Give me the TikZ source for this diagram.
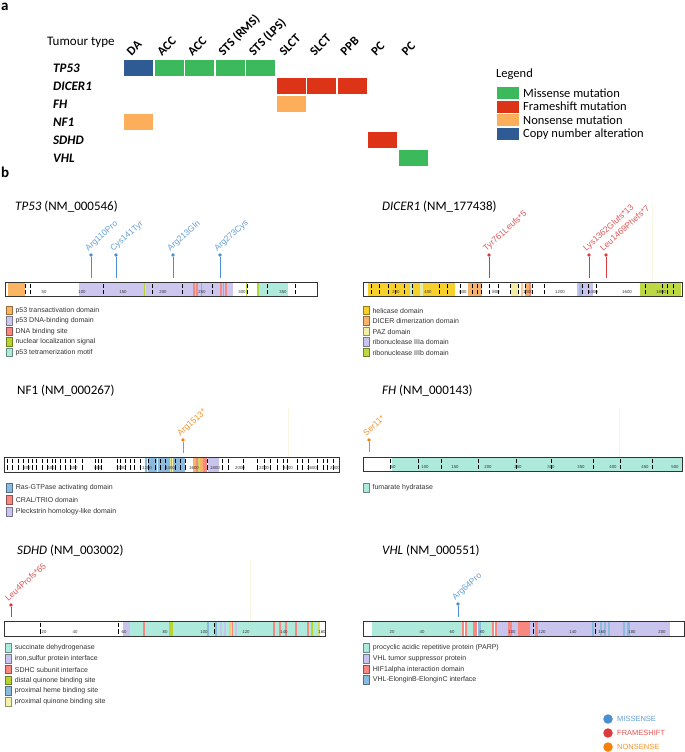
\documentclass[tikz,border=0pt]{standalone}
\usepackage{fontspec}
\setmainfont{Carlito}
\newfontfamily\arf{Liberation Sans}
\definecolor{mgreen}{HTML}{3CBA5B}
\definecolor{mred}{HTML}{DD3418}
\definecolor{morange}{HTML}{FDAE5A}
\definecolor{mblue}{HTML}{2E5B93}
\definecolor{dorange}{HTML}{FBB461}
\definecolor{dlav}{HTML}{CDC6EE}
\definecolor{dsal}{HTML}{F7877F}
\definecolor{dyg}{HTML}{B8D432}
\definecolor{dteal}{HTML}{AEEADB}
\definecolor{dgold}{HTML}{F8D02C}
\definecolor{dor2}{HTML}{F9B26C}
\definecolor{dpaz}{HTML}{F3EEA6}
\definecolor{dlav2}{HTML}{C9C4EE}
\definecolor{dyg2}{HTML}{BCD843}
\definecolor{dblue}{HTML}{8BBADF}
\definecolor{dpy}{HTML}{F5F1AA}
\definecolor{lmis}{HTML}{4A8FD0}
\definecolor{lfs}{HTML}{DC3B3B}
\definecolor{lnon}{HTML}{F3810C}
\definecolor{faint}{HTML}{FAF5E0}
\definecolor{txt}{HTML}{333333}
\newcommand\dom[3]{\fill[#3] (#1,\bt+0.5) rectangle (#2,\bb-0.5);}
\newcommand\tks[1]{\foreach \q in {#1}{\draw[tkline] (\q,\bt+1.6) -- (\q,\bb-1.6);}}
\newcommand\axls[2]{\foreach \q/\v in {#2}{\node[axlab] (#1\v) at (\q,\bb-3.7) {\v};}}
\newcommand\barfill[2]{\fill[white] (#1,\bt) rectangle (#2,\bb);}
\newcommand\barbox[2]{\draw[barline] (#1,\bt) rectangle (#2,\bb);}
\newcommand\lol[6]{%
  \node[lolldot, fill=#5] (#1) at (#2,#3) {};
  \coordinate (#1s) at (#2,#4);
  \draw[#5, line width=1pt] (#1) -- (#1s);
  \node[mutlab, text=#5!85!white] (#1t) at (#2-2.8,#3-3.4) {#6};}
\newcommand\lgi[5]{%
  \node[lgbox, fill=#4, draw=#4!60!black] (#1) at (#2,#3) {};
  \node[lgtext] (#1t) at ([xshift=2.6pt]#1.east) {#5};}
\newcommand\fa[1]{\fontsize{#1}{#1}\selectfont}
\begin{document}
\begin{tikzpicture}[x=1pt,y=-1pt,
  tkline/.style={black, line width=0.75pt, dash pattern=on 4.4pt off 2.2pt},
  axlab/.style={font=\arf\fa{4.3}, text=txt, inner sep=0},
  barline/.style={draw=txt, line width=1pt},
  lolldot/.style={circle, inner sep=0, minimum size=3.6pt, draw=none},
  mutlab/.style={font=\arf\fa{8.5}, anchor=base west, rotate=42, inner sep=0},
  lgbox/.style={minimum width=6.5pt, minimum height=8.5pt, inner sep=0, line width=0.7pt},
  lgtext/.style={anchor=west, font=\arf\fa{7}, text=txt, inner sep=0},
  hdr/.style={font=\bfseries\fa{12.5}, anchor=base west, rotate=45, inner sep=0},
  rowl/.style={font=\bfseries\itshape\fa{13}, anchor=west, inner sep=0},
  ttl/.style={font=\fa{13}, anchor=west, inner sep=0},
  panl/.style={font=\bfseries\fa{15}, anchor=west, inner sep=0}]
\useasboundingbox (0,0) rectangle (685,752);
\fill[white] (0,0) rectangle (685,752);
% ---------------- panel a
\node[panl] (pa) at (1,7) {a};
\node[anchor=west, font=\fa{13}, inner sep=0] (tt) at (47,42) {Tumour type};
\foreach \i/\hh in {0/DA,1/ACC,2/ACC,3/STS (RMS),4/STS (LPS),5/SLCT,6/SLCT,7/PPB,8/PC,9/PC}{
  \node[hdr] (h\i) at (131.5+\i*30.55,56.5) {\hh};}
\node[rowl] (rTP) at (53,68) {TP53};
\node[rowl] (rDI) at (53,86) {DICER1};
\node[rowl] (rFH) at (53,104) {FH};
\node[rowl] (rNF) at (53,122) {NF1};
\node[rowl] (rSD) at (53,140) {SDHD};
\node[rowl] (rVH) at (53,158) {VHL};
\newcommand\cellf[3]{\fill[#3] (124+#1*30.55,#2) rectangle ++(29,16);}
\cellf{0}{60}{mblue}
\cellf{1}{60}{mgreen}\cellf{2}{60}{mgreen}\cellf{3}{60}{mgreen}\cellf{4}{60}{mgreen}
\cellf{5}{78}{mred}\cellf{6}{78}{mred}\cellf{7}{78}{mred}
\cellf{5}{96}{morange}
\cellf{0}{114}{morange}
\cellf{8}{132}{mred}
\cellf{9}{150}{mgreen}
\node[anchor=west, font=\fa{12.5}, inner sep=0] (lgh) at (496,74) {Legend};
\foreach \y/\c/\t in {87/mgreen/Missense mutation,100.5/mred/Frameshift mutation,114/morange/Nonsense mutation,127.5/mblue/Copy number alteration}{
  \fill[\c] (497,\y) rectangle ++(22,12);
  \node[anchor=west, font=\fa{12.5}, inner sep=0] (lg\c) at (523,\y+6.2) {\t};}
% ---------------- panel b
\node[panl] (pb) at (1,172) {b};
% TP53
\node[ttl] (ttp) at (15,207) {\textit{TP53} (NM\_000546)};
\def\bt{282}\def\bb{296}
\barfill{5}{317}
\dom{8}{25}{dorange}
\dom{79}{233}{dlav}
\dom{143.5}{144.7}{dyg}\dom{145.2}{146.4}{dteal}
\dom{193}{195}{dsal}\dom{196.3}{197.5}{dsal}\dom{200.5}{201.7}{dsal}
\dom{220}{222}{dsal}\dom{223}{224.2}{dsal}\dom{225.2}{227}{dsal}
\dom{246}{247.2}{dyg}\dom{257}{259}{dyg}
\dom{259}{288}{dteal}
\tks{25,30,103,152,182,212,247,267,295}
\axls{tp}{44/50,82/100,123/150,163/200,202/250,242/300,283/350}
\barbox{5}{317}
\lol{m1}{91}{255}{278}{lmis}{Arg110Pro}
\lol{m2}{116}{255}{278}{lmis}{Cys141Tyr}
\lol{m3}{173}{255}{278}{lmis}{Arg213Gln}
\lol{m4}{220}{255}{278}{lmis}{Arg273Cys}
\lgi{l11}{9.2}{310.5}{dorange}{p53 transactivation domain}
\lgi{l12}{9.2}{321}{dlav}{p53 DNA-binding domain}
\lgi{l13}{9.2}{331.5}{dsal}{DNA binding site}
\lgi{l14}{9.2}{342}{dyg}{nuclear localization signal}
\lgi{l15}{9.2}{352.5}{dteal}{p53 tetramerization motif}
% DICER1
\node[ttl] (tdi) at (382,207) {\textit{DICER1} (NM\_177438)};
\draw[faint, line width=0.8pt] (652,205) -- (652,282);
\barfill{363}{682}
\dom{368}{410}{dgold}\dom{410}{412.5}{dteal!70!dpaz}\dom{412.5}{420}{dgold}\dom{420}{423}{dyg!40!white}\dom{423}{455}{dgold}
\dom{468}{482}{dor2}
\dom{511}{519}{dpaz}\dom{521}{523}{dor2!70!white}\dom{525}{529}{dor2}\dom{529}{531}{dsal}
\dom{577}{593}{dlav2}\dom{579}{582}{dblue!70!dlav2}
\dom{640}{681}{dyg2}
\tks{371,379,388,395,404,412,439,447,460,472,477,481,489,498,510,518,525,532,544,582,588,596,645,662,667,673}
\axls{di}{396/200,428/400,463/600,496/800,528/1000,560/1200,593/1400,627/1600,661/1800}
\barbox{363}{682}
\lol{m5}{489}{255}{278}{lfs}{Tyr761Leufs*5}
\lol{m6}{589}{255}{278}{lfs}{Lys1362Glufs*13}
\lol{m7}{606}{255}{278}{lfs}{Leu1469Phefs*7}
\lgi{l21}{366.2}{310.5}{dgold}{helicase domain}
\lgi{l22}{366.2}{321}{dor2}{DICER dimerization domain}
\lgi{l23}{366.2}{331.5}{dpaz}{PAZ domain}
\lgi{l24}{366.2}{342}{dlav2}{ribonuclease IIIa domain}
\lgi{l25}{366.2}{352.5}{dyg2}{ribonuclease IIIb domain}
% NF1
\node[ttl] (tnf) at (17,391) {NF1 (NM\_000267)};
\draw[faint, line width=0.8pt] (288,408) -- (288,457);
\def\bt{457}\def\bb{472}
\barfill{4}{339}
\dom{145}{185}{dblue}
\dom{147.3}{148.2}{dpy}\dom{156.5}{157.5}{dpy}\dom{169.5}{170.5}{dyg!50!white}\dom{171.8}{172.8}{dpy}
\dom{193}{196}{dor2}\dom{196}{198}{dsal}\dom{198}{200}{dyg!70!dpy}\dom{200}{203}{dor2}\dom{203}{207}{dsal}
\dom{208}{219}{dlav2}
\tks{7,12,18,23,28,32,36,42,47,52,55,60,65,70,75,82,95,98,101,117,120,125,130,134,140,148,155,160,165,175,180,185,207,222,228,243,257,264,270,277,283,287,297,302,308,317,323,327,333}
\axls{nf}{27/200,51/400,74/600,98/800,121/1000,147/1200,170/1400,194/1600,215/1800,240/2000,264/2200,288/2400,312/2600,335/2800}
\barbox{4}{339}
\lol{m8}{183}{440}{453}{lnon}{Arg1513*}
\lgi{l31}{9.5}{488}{dblue}{Ras-GTPase activating domain}
\lgi{l32}{9.5}{500}{dsal}{CRAL/TRIO domain}
\lgi{l33}{9.5}{512}{dlav2}{Pleckstrin homology-like domain}
% FH
\node[ttl] (tfh) at (382,391) {\textit{FH} (NM\_000143)};
\draw[faint, line width=0.8pt] (619,408) -- (619,457);
\def\bt{457}\def\bb{471}
\barfill{363}{682}
\dom{392}{681.5}{dteal}
\tks{390,418,441,478,516,551,593,620,652}
\axls{fh}{393/50,425/100,455/150,488/200,518/250,551/300,581/350,613/400,645/450,675/500}
\barbox{363}{682}
\lol{m9}{369}{440}{452}{lnon}{Ser11*}
\lgi{l41}{366.2}{488}{dteal}{fumarate hydratase}
% SDHD
\node[ttl] (tsd) at (17,551) {\textit{SDHD} (NM\_003002)};
\draw[faint, line width=0.8pt] (250,560) -- (250,621);
\def\bt{621}\def\bb{636}
\barfill{4}{325}
\dom{123}{320}{dteal}
\dom{123}{130}{dlav2}\dom{143}{145}{dsal}\dom{169}{173}{dyg}\dom{207}{209}{dblue}\dom{215}{217}{dblue}
\dom{220}{222}{dlav2}\dom{224}{225.5}{dlav2}\dom{229}{231}{dor2!70!dpy}\dom{232}{233}{dsal}\dom{235}{237}{dlav2}
\dom{273}{275}{dsal}\dom{279}{280.5}{dsal}\dom{285}{286.5}{dsal}\dom{295}{296.5}{dsal}\dom{307}{308.5}{dsal}
\dom{311}{313}{dyg}\dom{318}{319.5}{dyg!60!dpy}
\tks{40,118,214}
\axls{sd}{44/20,75/40,124/60,165/80,204/100,246/120,284/140,322/160}
\barbox{4}{325}
\lol{m10}{11}{605}{617}{lfs}{Leu4Profs*65}
\lgi{l51}{8.5}{648}{dteal}{succinate dehydrogenase}
\lgi{l52}{8.5}{659}{dlav2}{iron,sulfur protein interface}
\lgi{l53}{8.5}{669.5}{dsal}{SDHC subunit interface}
\lgi{l54}{8.5}{680.5}{dyg}{distal quinone binding site}
\lgi{l55}{8.5}{691}{dblue}{proximal heme binding site}
\lgi{l56}{8.5}{702}{dpy}{proximal quinone binding site}
% VHL
\node[ttl] (tvh) at (382,551) {\textit{VHL} (NM\_000551)};
\barfill{363}{684}
\dom{372}{462}{dteal}\dom{462}{464}{dsal}\dom{465}{466.5}{dsal}\dom{466.5}{473}{dteal}\dom{473}{477}{dsal}
\dom{477.5}{480.5}{dblue}\dom{480.5}{492}{dteal}\dom{492}{494}{dsal}\dom{495}{497}{dsal}\dom{497}{508}{dlav2}
\dom{508}{512}{dsal}\dom{512}{518}{dlav2}\dom{518}{530}{dsal}\dom{530}{535}{dlav2}\dom{535}{538}{dsal}
\dom{538}{670}{dlav2}\dom{591.5}{593.5}{dblue}\dom{600}{602}{dblue}\dom{603.5}{606}{dblue}\dom{607.5}{610}{dblue}
\dom{623}{625}{dblue}\dom{627}{630}{dblue}
\tks{533,595}
\axls{vh}{392/20,422/40,452/60,482/80,512/100,542/120,573/140,602/160,632/180,662/200}
\barbox{363}{684}
\lol{m11}{458}{604}{617}{lmis}{Arg64Pro}
\lgi{l61}{366.5}{648}{dteal}{procyclic acidic repetitive protein (PARP)}
\lgi{l62}{366.5}{659}{dlav2}{VHL tumor suppressor protein}
\lgi{l63}{366.5}{669.5}{dsal}{HIF1alpha interaction domain}
\lgi{l64}{366.5}{680}{dblue}{VHL-ElonginB-ElonginC interface}
% bottom legend
\foreach \y/\c/\t in {719/lmis/MISSENSE,733/lfs/FRAMESHIFT,747/lnon/NONSENSE}{
  \node[circle, fill=\c, minimum size=9.5pt, inner sep=0] (bl\c) at (608,\y) {};
  \node[anchor=west, font=\arf\fa{7.5}, text=\c!85!white, inner sep=0] (bt\c) at (617,\y) {\t};}
\end{tikzpicture}
\end{document}
